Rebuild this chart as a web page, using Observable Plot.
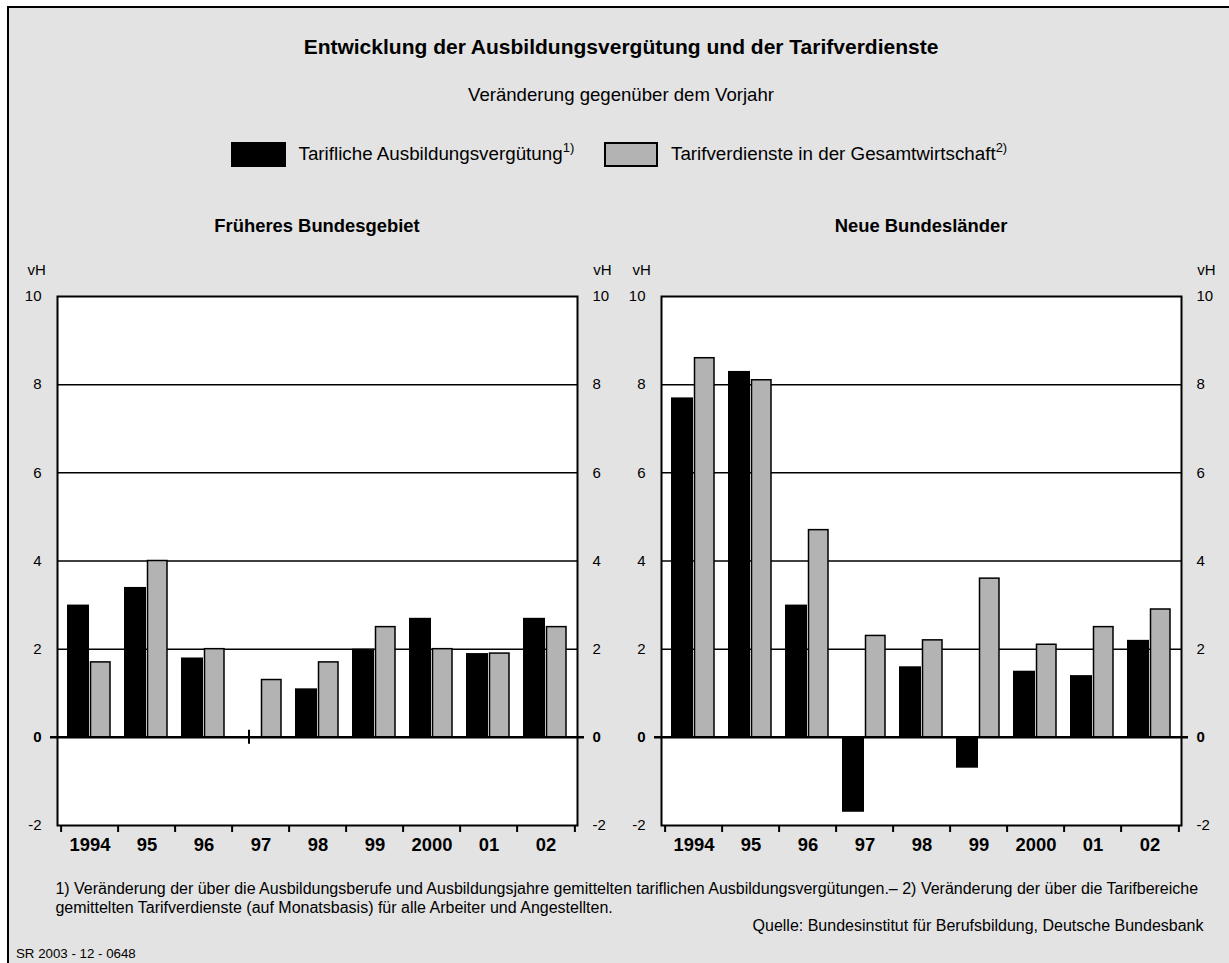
<!DOCTYPE html>
<html>
<head>
<meta charset="utf-8">
<script src="https://cdn.jsdelivr.net/npm/d3@7"></script>
<script src="https://cdn.jsdelivr.net/npm/@observablehq/plot@0.6"></script>
<style>
html, body { margin: 0; padding: 0; overflow: hidden; background: #fff; }
#page { position: relative; width: 1229px; height: 963px; overflow: hidden;
  font-family: "Liberation Sans", Arial, Helvetica, sans-serif; color: #000; }
#frame { position: absolute; left: 7px; top: 6px; width: 1300px; height: 1100px;
  border: 2px solid #000; background: #e3e3e3; box-sizing: border-box; }
.abs { position: absolute; line-height: 1; white-space: nowrap; }
.sup { font-size: 13px; position: relative; top: -8px; }
.swatch { position: absolute; box-sizing: border-box; }
</style>
</head>
<body>
<div id="page">
  <div id="frame"></div>
  <div class="abs" style="left:0;width:1242px;text-align:center;top:35.5px;font-size:21px;font-weight:bold;">Entwicklung der Ausbildungsvergütung und der Tarifverdienste</div>
  <div class="abs" style="left:0;width:1242px;text-align:center;top:85.9px;font-size:18.6px;">Veränderung gegenüber dem Vorjahr</div>

  <div class="swatch" style="left:231px;top:142px;width:55px;height:25px;background:#000;"></div>
  <div class="abs" style="left:298.5px;top:145.2px;font-size:18.8px;">Tarifliche Ausbildungsvergütung<span class="sup">1)</span></div>
  <div class="swatch" style="left:604px;top:142px;width:54px;height:25px;background:#b3b3b3;border:2px solid #000;"></div>
  <div class="abs" style="left:671px;top:145.2px;font-size:18.8px;">Tarifverdienste in der Gesamtwirtschaft<span class="sup">2)</span></div>

  <div class="abs" style="left:57px;width:520px;text-align:center;top:216.7px;font-size:18.4px;font-weight:bold;">Früheres Bundesgebiet</div>
  <div class="abs" style="left:661px;width:520px;text-align:center;top:216.7px;font-size:18.4px;font-weight:bold;">Neue Bundesländer</div>

  <div id="west" class="abs" style="left:0;top:261px;width:620px;height:600px;"></div>
  <div id="ost" class="abs" style="left:620px;top:261px;width:609px;height:600px;"></div>

  <div class="abs" style="left:55.4px;top:879px;font-size:16px;line-height:19px;">1) Veränderung der über die Ausbildungsberufe und Ausbildungsjahre gemittelten tariflichen Ausbildungsvergütungen.– 2) Veränderung der über die Tarifbereiche<br>gemittelten Tarifverdienste (auf Monatsbasis) für alle Arbeiter und Angestellten.</div>
  <div class="abs" style="left:0;width:1203.5px;text-align:right;top:918px;font-size:16px;">Quelle: Bundesinstitut für Berufsbildung, Deutsche Bundesbank</div>
  <div class="abs" style="left:16px;top:946.5px;font-size:13.3px;">SR 2003 - 12 - 0648</div>
</div>

<script>
// ---- Data ----
const years = ["1994", "95", "96", "97", "98", "99", "2000", "01", "02"];
const westAusbildung = [3.0, 3.4, 1.8, 0, 1.1, 2.0, 2.7, 1.9, 2.7];
const westTarif      = [1.7, 4.0, 2.0, 1.3, 1.7, 2.5, 2.0, 1.9, 2.5];
const ostAusbildung  = [7.7, 8.3, 3.0, -1.7, 1.6, -0.7, 1.5, 1.4, 2.2];
const ostTarif       = [8.6, 8.1, 4.7, 2.3, 2.2, 3.6, 2.1, 2.5, 2.9];
const yTickValues = [-2, 2, 4, 6, 8, 10];
const gridValues = [2, 4, 6, 8];
const yDomain = [-2, 10];

const FONT = '"Liberation Sans", Arial, Helvetica, sans-serif';
const fmt = d => String(d);

function panel(aus, tarif, m) {
  const A = years.map((year, i) => ({year, value: aus[i]}));
  const T = years.map((year, i) => ({year, value: tarif[i]}));
  const bw = (m.width - m.marginLeft - m.marginRight) / years.length;
  const axisCommon = {tickSize: 0, fontSize: 15, tickFormat: fmt};
  return Plot.plot({
    width: m.width,
    height: 600,
    marginTop: 35,
    marginBottom: 36,
    marginLeft: m.marginLeft,
    marginRight: m.marginRight,
    style: {background: "transparent", fontFamily: FONT, fontSize: "15px", color: "#000", overflow: "visible"},
    x: {type: "band", domain: years, padding: 0, axis: null, label: null},
    y: {domain: yDomain, nice: false, axis: null, label: null},
    marks: [
      Plot.frame({fill: "white", stroke: "none"}),
      Plot.ruleY(gridValues, {stroke: "#000", strokeWidth: 1.5}),
      Plot.barY(A, {x: "year", y: "value", fill: "#000", insetLeft: 6, insetRight: 29}),
      Plot.barY(T, {x: "year", y: "value", fill: "#b3b3b3", stroke: "#000", strokeWidth: 1.5, insetLeft: 29.5, insetRight: 8}),
      Plot.ruleX(A.filter(d => d.value === 0), {x: "year", y1: 0, y2: 0, insetTop: -7, insetBottom: -7, dx: -12, stroke: "#000", strokeWidth: 2}),
      Plot.ruleY([0], {stroke: "#000", strokeWidth: 2.5, insetLeft: -7, insetRight: -7}),
      Plot.frame({stroke: "#000", strokeWidth: 2}),
      Plot.ruleX(years, {x: d => d, y1: yDomain[0], y2: yDomain[0], insetBottom: -7, dx: -bw / 2, stroke: "#000", strokeWidth: 2}),
      Plot.ruleX(years.slice(-1), {x: d => d, y1: yDomain[0], y2: yDomain[0], insetBottom: -7, dx: bw / 2, stroke: "#000", strokeWidth: 2}),
      Plot.axisX({tickSize: 0, tickPadding: 12, fontWeight: "bold", fontSize: 18.4, label: null}),
      Plot.axisY({...axisCommon, anchor: "left", ticks: yTickValues, tickPadding: 16, label: "vH", labelAnchor: "top", labelOffset: m.labL, labelArrow: "none"}),
      Plot.axisY({...axisCommon, anchor: "left", ticks: [0], tickPadding: 16, fontWeight: "bold", label: null}),
      Plot.axisY({...axisCommon, anchor: "right", ticks: yTickValues, tickPadding: 15, label: "vH", labelAnchor: "top", labelOffset: m.labR, labelArrow: "none"}),
      Plot.axisY({...axisCommon, anchor: "right", ticks: [0], tickPadding: 15, fontWeight: "bold", label: null})
    ]
  });
}

document.getElementById("west").append(
  panel(westAusbildung, westTarif, {width: 620, marginLeft: 57, marginRight: 43, labL: 30, labR: 34})
);
document.getElementById("ost").append(
  panel(ostAusbildung, ostTarif, {width: 609, marginLeft: 41, marginRight: 48, labL: 29, labR: 34})
);
</script>
</body>
</html>
